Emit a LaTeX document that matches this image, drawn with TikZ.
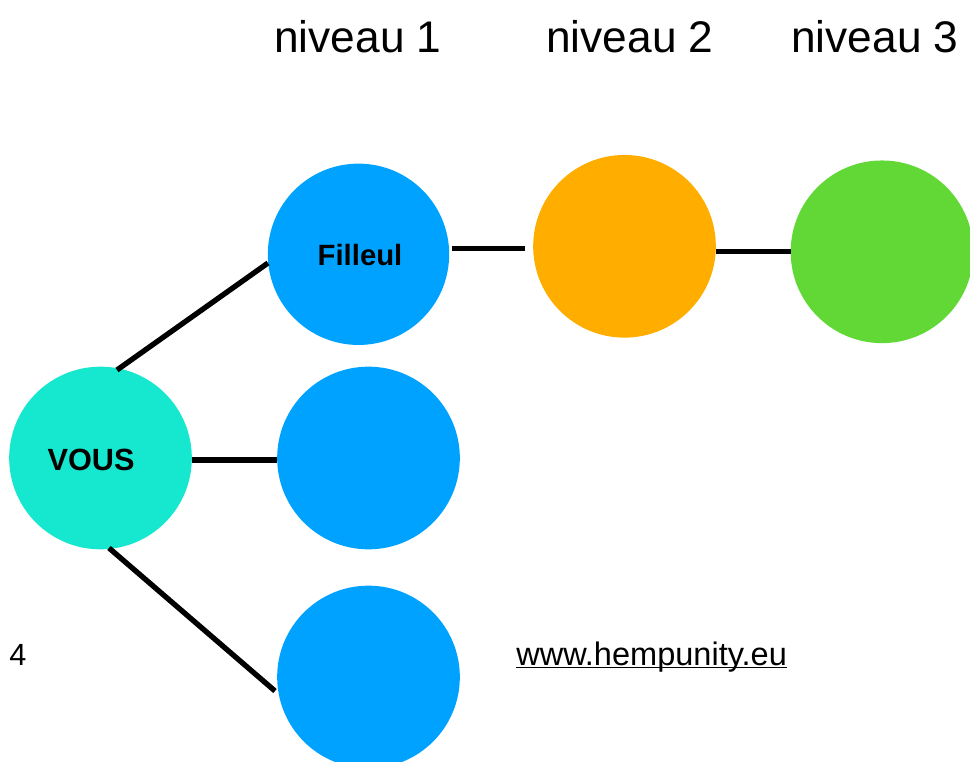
\documentclass[tikz,border=0pt]{standalone}
\usepackage{fontspec}
\setmainfont{Liberation Sans}
\definecolor{bluec}{HTML}{00A2FF}
\definecolor{orangec}{HTML}{FFAE00}
\definecolor{greenc}{HTML}{61D836}
\definecolor{tealc}{HTML}{16E7CF}
\newsavebox\urlbox
\tikzset{x=0.75pt,y=-0.75pt,
 disc/.style={circle,inner sep=0pt,minimum size=137pt},
 link/.style={line width=4pt,black},
 head/.style={font=\fontsize{33.2}{38}\selectfont,anchor=base west,inner sep=0pt},
 small/.style={font=\fontsize{24.4}{28}\selectfont,anchor=base west,inner sep=0pt}}
\begin{document}
\begin{tikzpicture}
\useasboundingbox (0,0) rectangle (970,762);
\clip (0,0) rectangle (970,762);
\node[disc,fill=tealc] (vous) at (100.5,458) {};
\node[disc,fill=bluec,minimum size=136pt] (f1) at (358.5,254.3) {};
\node[disc,fill=bluec] (f2) at (368.5,458) {};
\node[disc,fill=bluec] (f3) at (368.5,677) {};
\node[disc,fill=orangec] (n2) at (624.5,246.3) {};
\node[disc,fill=greenc] (n3) at (882,251.8) {};
\node[font=\bfseries\fontsize{23}{26}\selectfont,inner sep=0pt] (vl) at (91,460) {VOUS};
\node[font=\bfseries\fontsize{22}{26}\selectfont,inner sep=0pt] (fl) at (360,255) {Filleul};
\node[head] (h1) at (274,53) {niveau 1};
\node[head] (h2) at (546,53) {niveau 2};
\node[head] (h3) at (791,53) {niveau 3};
\node[small,font=\fontsize{23}{26}\selectfont] (four) at (9,665.5) {4};
\node[small] (url) at (516,665.5) {\sbox\urlbox{www.hempunity.eu}\rlap{\rule[-2pt]{\wd\urlbox}{0.9pt}}\usebox\urlbox};
\coordinate (a1) at (117,370); \coordinate (a2) at (268,263);
\coordinate (b1) at (192,460); \coordinate (b2) at (277,460);
\coordinate (c1) at (109,548); \coordinate (c2) at (275,691);
\coordinate (d1) at (452,248.5); \coordinate (d2) at (525,248.5);
\coordinate (e1) at (716,251.5); \coordinate (e2) at (791,251.5);
\draw[link] (a1) -- (a2);
\draw[link] (b1) -- (b2);
\draw[link] (c1) -- (c2);
\draw[link] (d1) -- (d2);
\draw[link] (e1) -- (e2);
\end{tikzpicture}
\end{document}
